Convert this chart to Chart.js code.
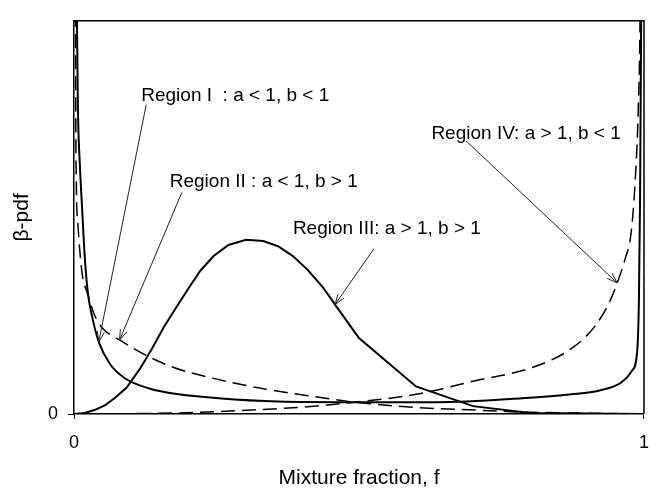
<!DOCTYPE html>
<html>
<head>
<meta charset="utf-8">
<script src="https://cdn.jsdelivr.net/npm/chart.js@4.4.1/dist/chart.umd.min.js"></script>
<style>
  html, body { margin: 0; padding: 0; background: #fff; }
  canvas { display: block; }
</style>
</head>
<body>
<canvas id="pdfChart" width="662" height="491"></canvas>
<script>
// beta-pdf curves vs mixture fraction, one pair of arrays per parameter region
const fI   = [0.002, 0.0052, 0.0069, 0.0104, 0.0139, 0.0191, 0.0243, 0.033, 0.0434, 0.0625, 0.0885, 0.132, 0.184, 0.253, 0.358, 0.493, 0.635, 0.786, 0.873, 0.922, 0.960, 0.979, 0.988, 0.991, 0.993, 0.995, 0.997];
const pdfI = [9, 6.0, 4.67, 3.78, 3.19, 2.37, 1.85, 1.44, 1.10, 0.77, 0.55, 0.39, 0.30, 0.24, 0.19, 0.18, 0.18, 0.24, 0.30, 0.36, 0.48, 0.66, 0.95, 1.70, 3.19, 6.0, 9];

const fII   = [0.0015, 0.0026, 0.0035, 0.0069, 0.0139, 0.0243, 0.0365, 0.050, 0.080, 0.123, 0.175, 0.241, 0.323, 0.41, 0.493, 0.60, 0.705, 0.786, 0.878, 1.0];
const pdfII = [9, 6.0, 3.93, 2.89, 2.17, 1.82, 1.50, 1.31, 1.13, 0.91, 0.71, 0.55, 0.40, 0.28, 0.18, 0.10, 0.06, 0.03, 0.015, 0];

const fIII   = [0, 0.019, 0.036, 0.054, 0.071, 0.092, 0.115, 0.137, 0.158, 0.179, 0.201, 0.222, 0.245, 0.271, 0.302, 0.332, 0.358, 0.384, 0.41, 0.436, 0.45, 0.458, 0.50, 0.60, 0.70, 0.80, 1.0];
const pdfIII = [0, 0.015, 0.06, 0.13, 0.24, 0.40, 0.68, 1.00, 1.33, 1.62, 1.92, 2.19, 2.41, 2.58, 2.66, 2.64, 2.56, 2.41, 2.20, 1.94, 1.77, 1.67, 1.16, 0.42, 0.12, 0.015, 0];

const fIV   = [0, 0.175, 0.309, 0.392, 0.493, 0.60, 0.70, 0.804, 0.873, 0.913, 0.939, 0.953, 0.967, 0.977, 0.984, 0.990, 0.993, 0.995];
const pdfIV = [0, 0.015, 0.06, 0.10, 0.18, 0.30, 0.50, 0.71, 1.0, 1.33, 1.70, 2.00, 2.37, 2.74, 3.48, 4.67, 6.0, 9];

const xTicks = [0, 1];
const xTickLabels = ['0', '1'];
const yTicks = [0];
const yTickLabels = ['0'];

// callout labels: text anchor, arrow tail, and which point of which curve the arrow hits
const noteText   = ['Region I  : a < 1, b < 1', 'Region II : a < 1, b > 1', 'Region III: a > 1, b > 1', 'Region IV: a > 1, b < 1'];
const noteF      = [0.118, 0.168, 0.384, 0.627];
const notePdf    = [4.78, 3.47, 2.75, 4.20];
const tailF      = [0.1267, 0.1892, 0.526, 0.6875];
const tailPdf    = [4.72, 3.38, 2.52, 4.17];
const noteSeries = [0, 1, 2, 3];
const noteTip    = [8, 8, 21, 11];

const FONT = '"Liberation Sans", Arial, sans-serif';

function pts(xs, ys) { return xs.map((v, i) => ({ x: v, y: ys[i] })); }

function curve(xs, ys, dashed, smooth) {
  return {
    data: pts(xs, ys),
    showLine: true,
    borderColor: '#000',
    borderWidth: dashed ? 1.5 : 2,
    borderDash: dashed ? [14, 7] : [],
    borderCapStyle: 'butt',
    cubicInterpolationMode: smooth ? 'monotone' : 'default',
    tension: 0,
    pointRadius: 0
  };
}

// top and right edges of the plot box
const frame = {
  id: 'frame',
  afterDraw(chart) {
    const { ctx, chartArea: a } = chart;
    ctx.save();
    ctx.strokeStyle = '#000';
    ctx.lineWidth = 1.5;
    ctx.beginPath();
    ctx.moveTo(a.left, a.top);
    ctx.lineTo(a.right, a.top);
    ctx.lineTo(a.right, a.bottom);
    ctx.stroke();
    ctx.restore();
  }
};

// text labels with thin arrows pointing at the curves
const callouts = {
  id: 'callouts',
  afterDatasetsDraw(chart) {
    const { ctx, scales: { x, y } } = chart;
    ctx.save();
    ctx.font = '19px ' + FONT;
    ctx.fillStyle = '#000';
    ctx.textAlign = 'left';
    ctx.textBaseline = 'alphabetic';
    noteText.forEach((txt, i) => {
      ctx.fillText(txt, x.getPixelForValue(noteF[i]), y.getPixelForValue(notePdf[i]));
      const p = chart.data.datasets[noteSeries[i]].data[noteTip[i]];
      const x0 = x.getPixelForValue(tailF[i]), y0 = y.getPixelForValue(tailPdf[i]);
      const x1 = x.getPixelForValue(p.x), y1 = y.getPixelForValue(p.y);
      ctx.strokeStyle = '#222';
      ctx.lineWidth = 1;
      ctx.beginPath();
      ctx.moveTo(x0, y0);
      ctx.lineTo(x1, y1);
      ctx.stroke();
      const ang = Math.atan2(y1 - y0, x1 - x0);
      const len = 11, spread = 0.33;
      ctx.beginPath();
      ctx.moveTo(x1 - len * Math.cos(ang - spread), y1 - len * Math.sin(ang - spread));
      ctx.lineTo(x1, y1);
      ctx.lineTo(x1 - len * Math.cos(ang + spread), y1 - len * Math.sin(ang + spread));
      ctx.stroke();
    });
    ctx.restore();
  }
};

new Chart(document.getElementById('pdfChart'), {
  type: 'scatter',
  data: {
    datasets: [
      curve(fI, pdfI, false, true),
      curve(fII, pdfII, true, true),
      curve(fIII, pdfIII, false, false),
      curve(fIV, pdfIV, true, true)
    ]
  },
  options: {
    responsive: false,
    animation: false,
    devicePixelRatio: 1,
    layout: { padding: { top: 11, right: 12, left: 0, bottom: 0 } },
    plugins: { legend: { display: false }, tooltip: { enabled: false } },
    scales: {
      x: {
        type: 'linear', min: 0, max: 1,
        afterBuildTicks: s => { s.ticks = xTicks.map(v => ({ value: v })); },
        afterFit: s => { s.height = 77; },
        ticks: {
          color: '#000', padding: 13, maxRotation: 0, autoSkip: false,
          font: { size: 18, family: FONT },
          callback: (v, i) => xTickLabels[i]
        },
        grid: { drawOnChartArea: false, tickLength: 5, color: '#000' },
        border: { color: '#000', width: 1.5 },
        title: { display: true, text: 'Mixture fraction, f', color: '#000', font: { size: 21, family: FONT }, padding: { top: 0, bottom: 0 } }
      },
      y: {
        type: 'linear', min: 0, max: 6,
        afterBuildTicks: s => { s.ticks = yTicks.map(v => ({ value: v })); },
        afterFit: s => { s.width = 74; },
        ticks: {
          color: '#000', padding: 10,
          font: { size: 18, family: FONT },
          callback: (v, i) => yTickLabels[i]
        },
        grid: { drawOnChartArea: false, tickLength: 6, color: '#000' },
        border: { color: '#000', width: 1.5 },
        title: { display: true, text: 'β-pdf', color: '#000', font: { size: 21, family: FONT }, padding: { top: 10, bottom: 0 } }
      }
    }
  },
  plugins: [frame, callouts]
});
</script>
</body>
</html>
